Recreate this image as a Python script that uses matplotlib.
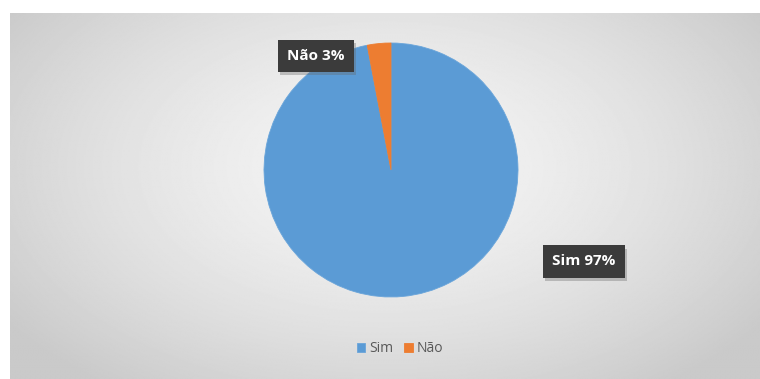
import numpy as np
import matplotlib.pyplot as plt
import matplotlib.patheffects as pe

categories = ['Sim', 'Não']
values = [97, 3]
colors = ['#5B9BD5', '#ED7D31']

plt.rcParams['font.family'] = ['Open Sans', 'DejaVu Sans']

W, H = 760, 379
fig = plt.figure(figsize=(W / 100, H / 100), dpi=100)
fig.patch.set_facecolor('white')

# gradient panel behind the chart
bg = fig.add_axes([10 / W, 0, (W - 10) / W, (H - 13) / H])
bg.set_axis_off()
yy, xx = np.mgrid[0:1:300j, 0:1:600j]
d = np.sqrt(((xx - 0.5) / 0.62) ** 2 + ((yy - 0.42) / 0.75) ** 2)
shade = 0.96 - 0.17 * np.clip(d, 0, 1) ** 1.5
bg.imshow(shade, cmap='gray', vmin=0, vmax=1, aspect='auto',
          extent=[0, 1, 0, 1], origin='upper', interpolation='bilinear')
bg.set_xlim(0, 1)
bg.set_ylim(0, 1)

# pie
cx, cy, r = 391, 170, 127
ax = fig.add_axes([(cx - r) / W, (H - cy - r) / H, 2 * r / W, 2 * r / H])
wedges, _ = ax.pie(values, colors=colors, startangle=90, counterclock=False,
                   radius=1, wedgeprops=dict(linewidth=0.6, edgecolor='#6aa5da'))
wedges[1].set_edgecolor('#ED7D31')
ax.set_xlim(-1, 1)
ax.set_ylim(-1, 1)
ax.set_aspect('equal')
ax.set_axis_off()

label_pos = [(1.52, -0.72), (-0.59, 0.90)]
for cat, val, (lx, ly) in zip(categories, values, label_pos):
    t = ax.text(lx, ly, f'{cat} {val}%', ha='center', va='center',
                color='white', fontsize=11, fontweight='bold', clip_on=False,
                bbox=dict(boxstyle='square,pad=0.6', facecolor='#3b3b3b',
                          edgecolor='none'))
    t.get_bbox_patch().set_path_effects([
        pe.SimplePatchShadow(offset=(1.5, -2.5), shadow_rgbFace='#666666', alpha=0.35),
        pe.Normal()])

leg = fig.legend(wedges, categories, loc='center', bbox_to_anchor=(400 / W, 1 - 349 / H),
                 ncol=2, frameon=False, handlelength=0.6, handleheight=0.6,
                 handletextpad=0.3, columnspacing=0.8, fontsize=10,
                 labelcolor='#595959')

fig.savefig('out.png', dpi=100)
